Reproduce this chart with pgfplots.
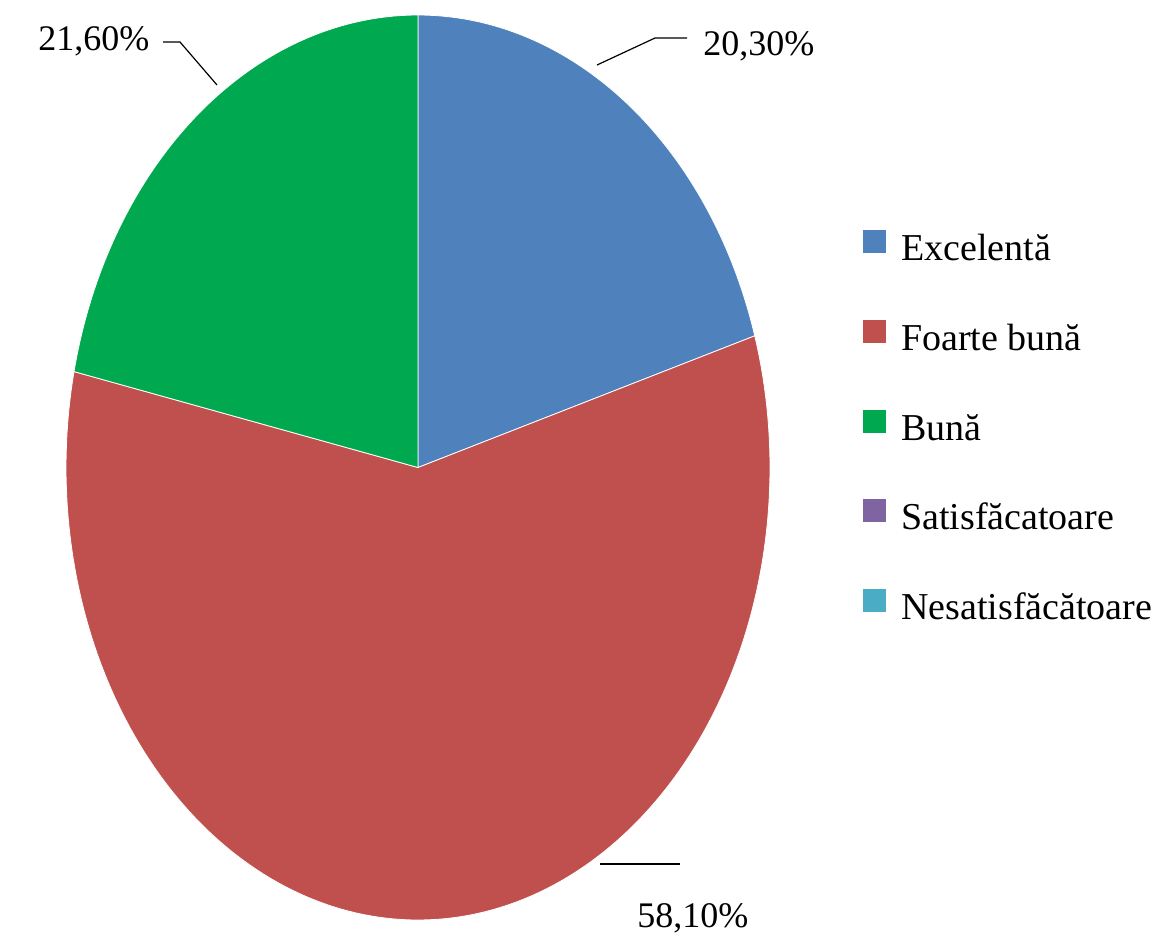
\documentclass[border=0pt]{standalone}
\usepackage{pgfplots}
\pgfplotsset{compat=1.18}
\usepackage{fontspec}
\setmainfont{Liberation Serif}

\definecolor{cExc}{RGB}{79,129,189}
\definecolor{cFb}{RGB}{192,80,77}
\definecolor{cBuna}{RGB}{0,168,80}
\definecolor{cSat}{RGB}{128,100,162}
\definecolor{cNes}{RGB}{75,172,198}

% shares in percent
\def\vExc{20.3}
\def\vFb{58.1}
\def\vBuna{21.6}
\pgfmathsetmacro\tA{90-3.6*\vExc}
\pgfmathsetmacro\tB{\tA-3.6*\vFb}
\pgfmathsetmacro\tC{90+3.6*\vBuna}

\begin{document}
\begin{tikzpicture}
\begin{axis}[
  width=577pt, height=469pt, scale only axis,
  xmin=0, xmax=1154, ymin=0, ymax=938, y dir=reverse,
  axis line style={draw=none}, xtick=\empty, ytick=\empty,
  clip=false,
  legend cell align=left,
  legend image code/.code={\fill[#1] (0pt,-1pt) rectangle (11pt,10pt);},
  legend style={at={(axis cs:863,230)}, anchor=north west, draw=none, fill=none,
    inner sep=0pt, column sep=7.5pt, row sep=25.6pt,
    font=\fontsize{19}{22}\selectfont,
    nodes={inner sep=0pt, text height=14pt, text depth=4pt}},
]
\addplot[fill=cExc, draw=white, line width=0.4pt, domain=\tA:90, samples=80, variable=\t, forget plot]
  ({418+352*cos(t)},{467.5-452.5*sin(t)}) -- (axis cs:418,467.5) -- cycle;
\addplot[fill=cFb, draw=white, line width=0.4pt, domain=\tB:\tA, samples=160, variable=\t, forget plot]
  ({418+352*cos(t)},{467.5-452.5*sin(t)}) -- (axis cs:418,467.5) -- cycle;
\addplot[fill=cBuna, draw=white, line width=0.4pt, domain=90:\tC, samples=80, variable=\t, forget plot]
  ({418+352*cos(t)},{467.5-452.5*sin(t)}) -- (axis cs:418,467.5) -- cycle;

\addlegendimage{cExc}\addlegendentry{Excelentă}
\addlegendimage{cFb}\addlegendentry{Foarte bună}
\addlegendimage{cBuna}\addlegendentry{Bună}
\addlegendimage{cSat}\addlegendentry{Satisfăcatoare}
\addlegendimage{cNes}\addlegendentry{Nesatisfăcătoare}

% leader lines and value labels
\draw[black, line width=0.6pt] (axis cs:163,42) -- (axis cs:180,42) -- (axis cs:217,85);
\draw[black, line width=0.6pt] (axis cs:597,65) -- (axis cs:655,38) -- (axis cs:687,38);
\draw[black, line width=0.6pt] (axis cs:600,864) -- (axis cs:680,864);
\node[anchor=base west, inner sep=0pt, font=\fontsize{18}{21}\selectfont] at (axis cs:38,50) {21,60\%};
\node[anchor=base west, inner sep=0pt, font=\fontsize{18}{21}\selectfont] at (axis cs:703,55) {20,30\%};
\node[anchor=base west, inner sep=0pt, font=\fontsize{18}{21}\selectfont] at (axis cs:637,927) {58,10\%};
\end{axis}
\end{tikzpicture}
\end{document}
